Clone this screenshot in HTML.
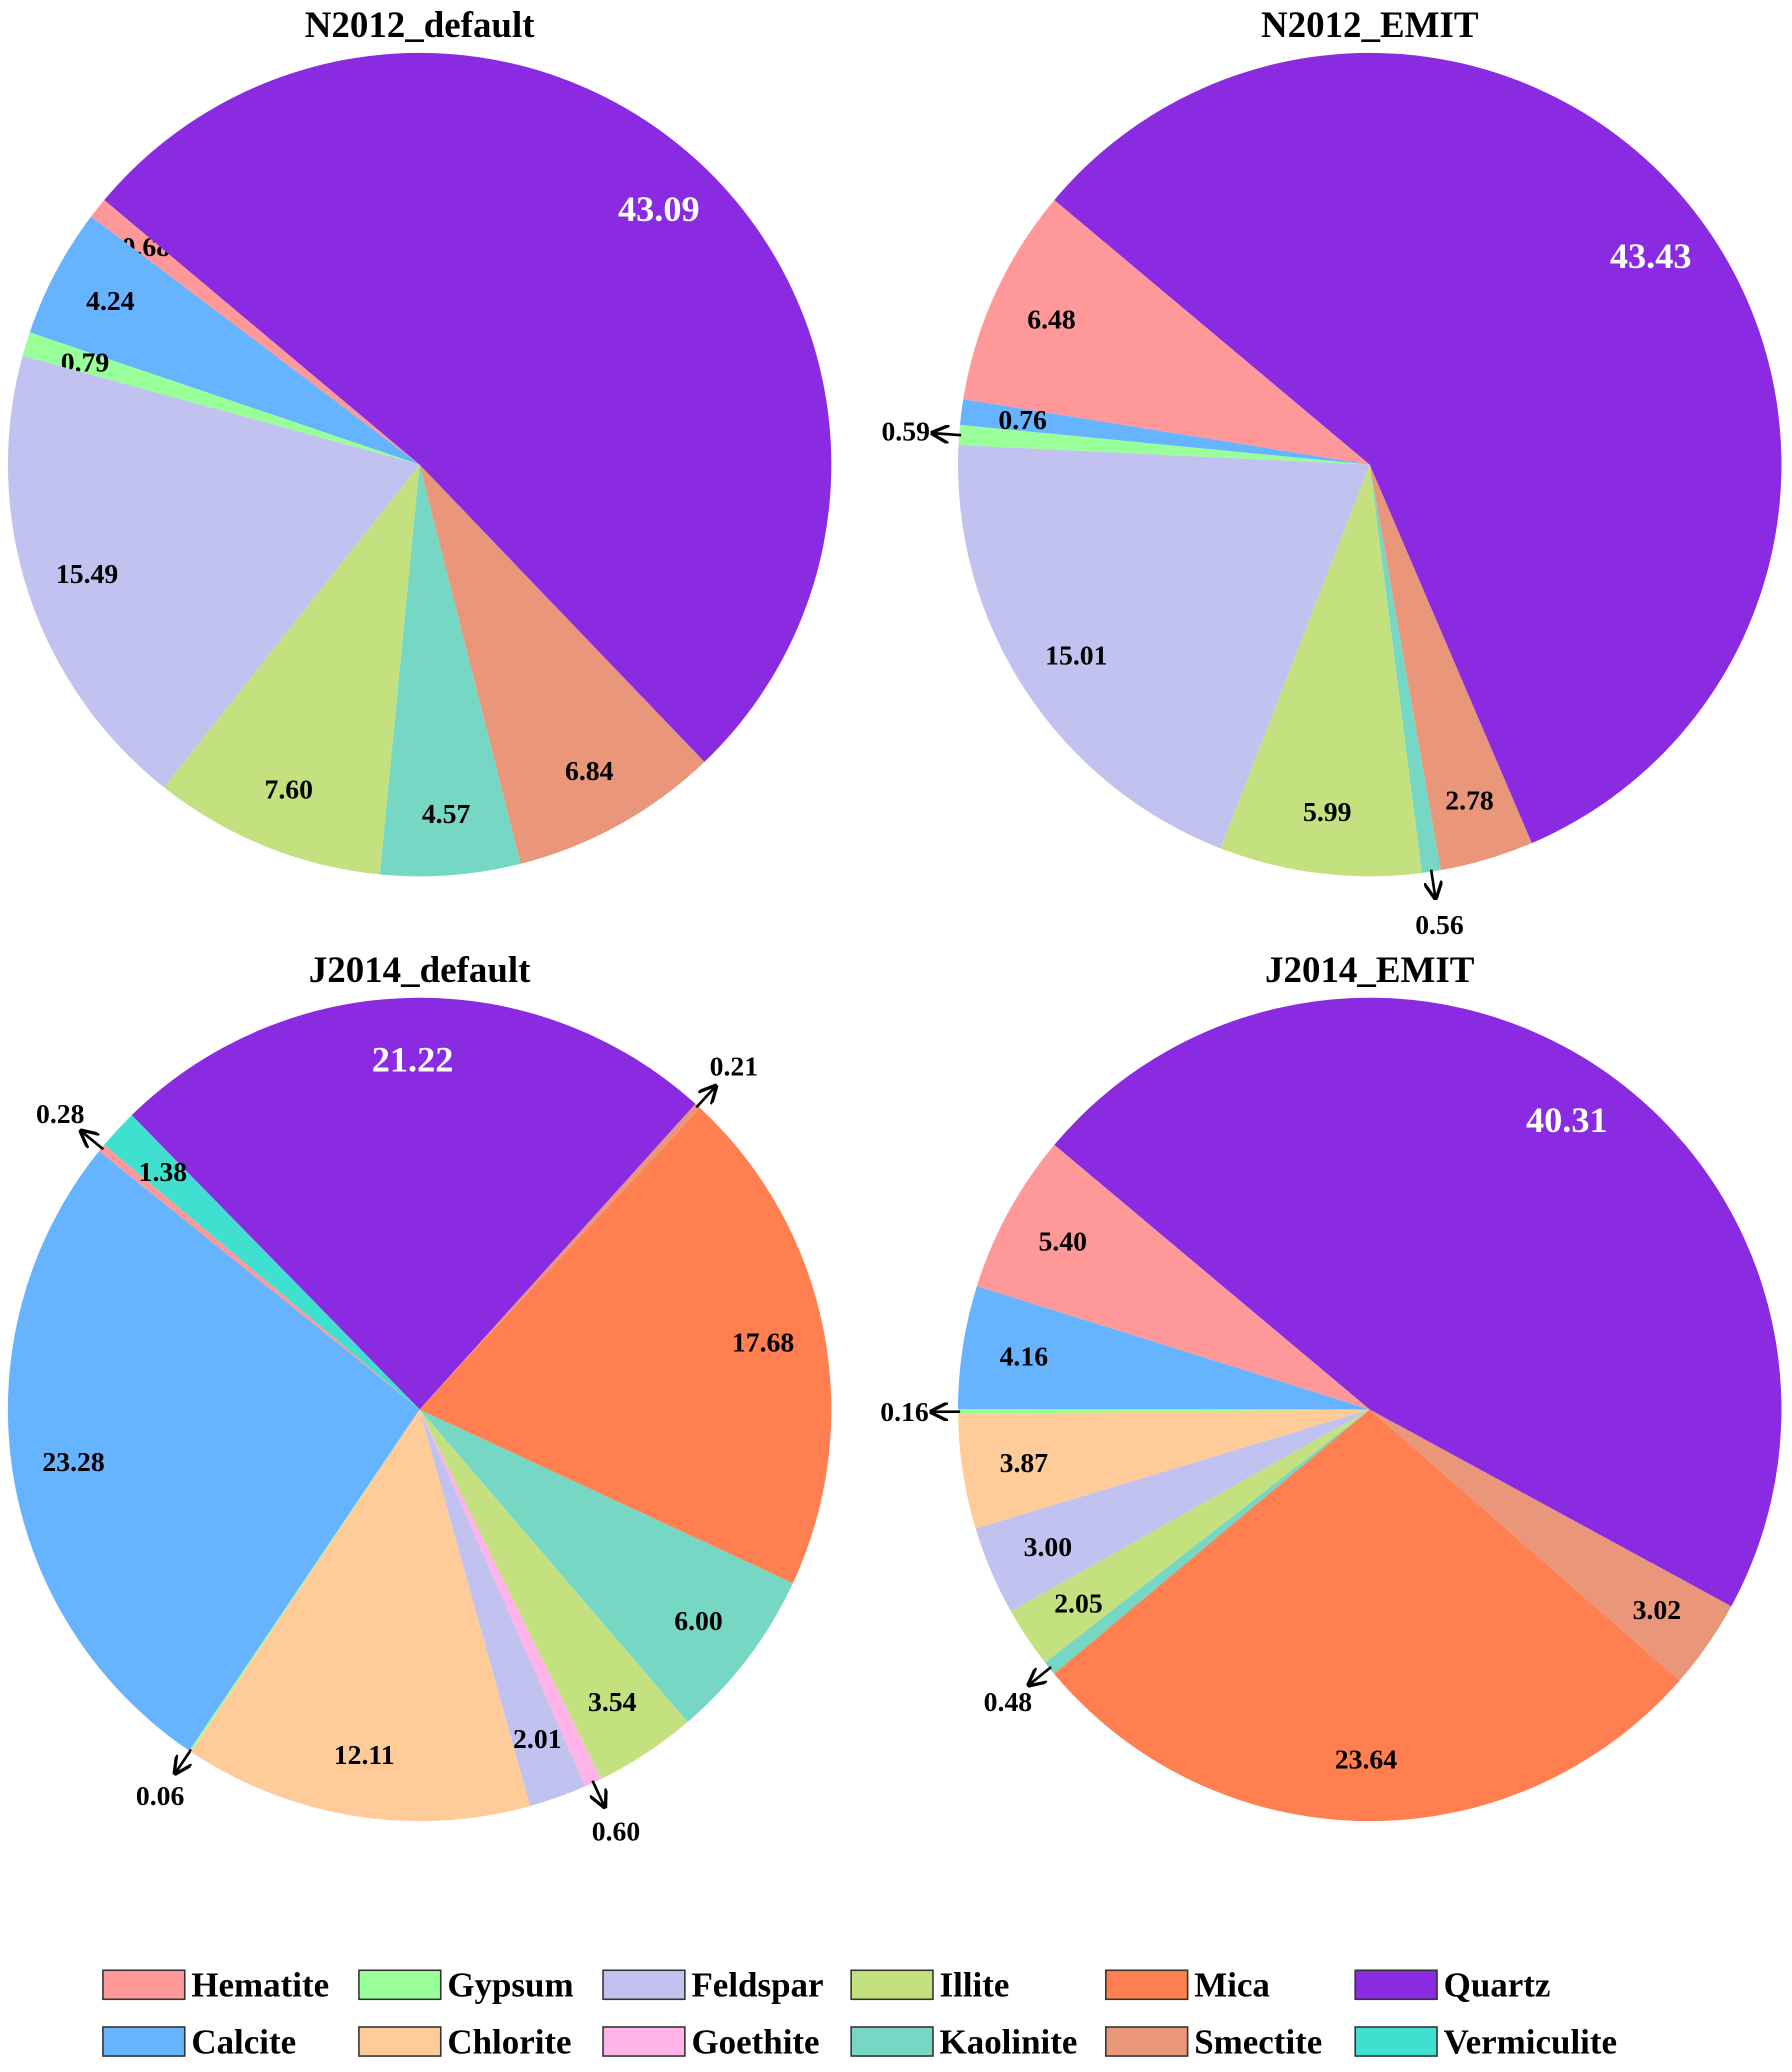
<!DOCTYPE html>
<html><head><meta charset="utf-8">
<style>
html,body{margin:0;padding:0;background:#fff;}
svg{display:block;}
text{font-family:"Liberation Serif",serif;font-weight:bold;}
</style></head>
<body>
<svg id="chart" xmlns="http://www.w3.org/2000/svg" width="1792" height="2072" viewBox="0 0 1358 1570">
<defs>
<marker id="ah" viewBox="0 0 10 10" refX="9" refY="5" markerWidth="7" markerHeight="7" orient="auto">
<path d="M0,0 L10,5 L0,10" fill="none" stroke="#000" stroke-width="1.8"/>
</marker>
</defs>
<g id="pies"></g>
<g id="legend"></g>
</svg>
<script>
const minerals = ["Hematite","Calcite","Gypsum","Chlorite","Feldspar","Goethite","Illite","Kaolinite","Mica","Smectite","Quartz","Vermiculite"];
const colors = ["#ff9999","#66b3ff","#99ff99","#ffcc99","#c2c2f0","#ffb3e6","#c4e17f","#76d7c4","#ff7f50","#e9967a","#8a2be2","#40e0d0"];
const titles = ["N2012_default","N2012_EMIT","J2014_default","J2014_EMIT"];
const n2012Default = [0.68,4.24,0.79,0,15.49,0,7.60,4.57,0,6.84,43.09,0];
const n2012Emit    = [6.48,0.76,0.59,0,15.01,0,5.99,0.56,0,2.78,43.43,0];
const j2014Default = [0.28,23.28,0.06,12.11,2.01,0.60,3.54,6.00,17.68,0.21,21.22,1.38];
const j2014Emit    = [5.40,4.16,0.16,3.87,3.00,0,2.05,0.48,23.64,3.02,40.31,0];
const series = [n2012Default,n2012Emit,j2014Default,j2014Emit];
const legendRow1 = ["Hematite","Gypsum","Feldspar","Illite","Mica","Quartz"];
const legendRow2 = ["Calcite","Chlorite","Goethite","Kaolinite","Smectite","Vermiculite"];

const NS="http://www.w3.org/2000/svg";
const centers=[[318,352],[1038,352],[318,1068],[1038,1068]];
const R=312, START=140, SMALL=0.65;
function mk(tag,attrs,parent){const e=document.createElementNS(NS,tag);for(const k in attrs)e.setAttribute(k,attrs[k]);parent.appendChild(e);return e;}
function pt(cx,cy,r,deg){const a=deg*Math.PI/180;return [cx+r*Math.cos(a),cy-r*Math.sin(a)];}
const pies=document.getElementById('pies');
series.forEach((vals,pi)=>{
  const [cx,cy]=centers[pi];
  const g=mk('g',{},pies);
  
  
  const t=mk('text',{x:cx,y:cy-324,'text-anchor':'middle','font-size':28,fill:'#000'},g);
  t.textContent=titles[pi];
  
  
  const total=vals.reduce((a,b)=>a+b,0);
  let ang=START;
  vals.forEach((v,i)=>{
    if(v<=0)return;
    const sweep=v/total*360;
    const a0=ang,a1=ang+sweep,mid=ang+sweep/2;ang=a1;
    const p0=pt(cx,cy,R,a0),p1=pt(cx,cy,R,a1);
    const large=sweep>180?1:0;
    const path=mk('path',{d:`M${cx},${cy} L${p0[0]},${p0[1]} A${R},${R} 0 ${large} 0 ${p1[0]},${p1[1]} Z`,fill:colors[i]},g);
    
    
    const label=v.toFixed(2);
    if(v<SMALL){
      const a=pt(cx,cy,R*0.995,mid),b=pt(cx,cy,R*1.065,mid),lp=pt(cx,cy,R*1.13,mid);
      const ln=mk('line',{x1:a[0],y1:a[1],x2:b[0],y2:b[1],stroke:'#000','stroke-width':2,'marker-end':'url(#ah)'},g);
      
      
      const tx=mk('text',{x:lp[0],y:lp[1]+7,'text-anchor':'middle','font-size':21,fill:'#000'},g);
      tx.textContent=label;
      
      
    }else{
      const lp=pt(cx,cy,R*0.85,mid);
      const q=minerals[i]==="Quartz";
      const tx=mk('text',{x:lp[0],y:lp[1]+(q?9:7),'text-anchor':'middle','font-size':q?27.5:21,fill:q?'#fff':'#000'},g);
      tx.textContent=label;
      
      
    }
  });
});
const leg=document.getElementById('legend');
const lx=[78,272,457,645,838,1027];
[legendRow1,legendRow2].forEach((row,ri)=>{
  const y=ri===0?1504:1547;
  row.forEach((name,ci)=>{
    const idx=minerals.indexOf(name);
    const g=mk('g',{},leg);
    
    
    mk('rect',{x:lx[ci],y:y-11,width:62,height:22,fill:colors[idx],stroke:'#333','stroke-width':1.2},g);
    const tx=mk('text',{x:lx[ci]+67,y:y+9,'font-size':26.5,fill:'#000'},g);
    tx.textContent=name;
  });
});
</script>
</body></html>
